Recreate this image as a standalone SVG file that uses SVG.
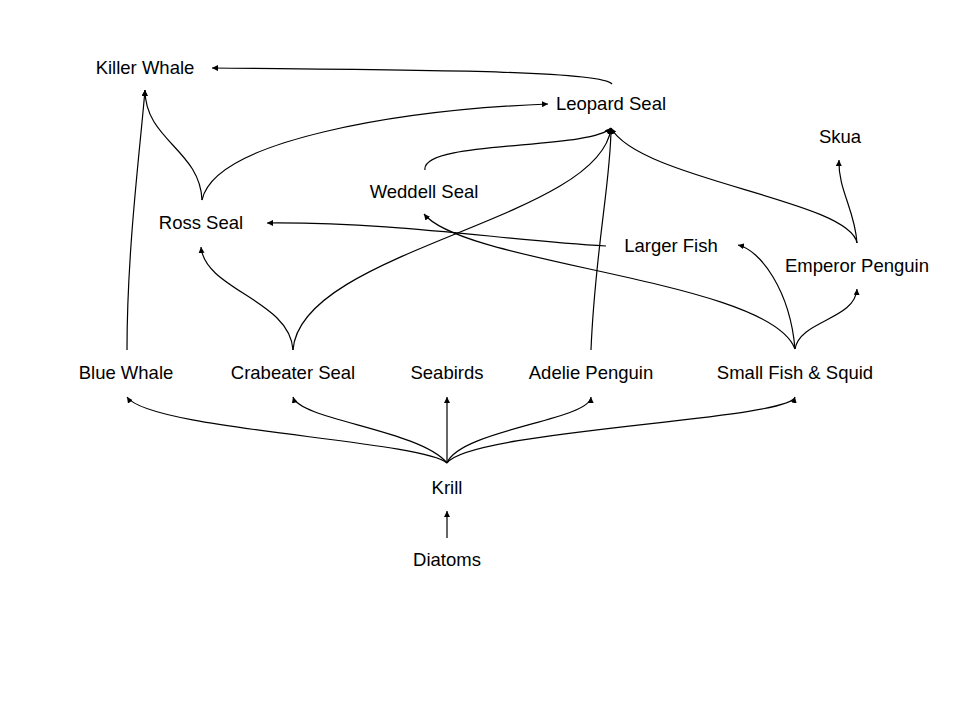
<svg xmlns="http://www.w3.org/2000/svg" width="960" height="720" viewBox="0 0 960 720">
<style>
text{font-family:"Liberation Sans",Arial,sans-serif;font-size:18.5px;fill:#000;text-anchor:middle}
.c path{fill:none;stroke:#000;stroke-width:1.2;marker-end:url(#ah)}
</style>
<defs>
<marker id="ah" markerUnits="userSpaceOnUse" markerWidth="7" markerHeight="6" refX="6" refY="3" orient="auto"><path d="M0,0 L6,3 L0,6 z" fill="#000"/></marker>
</defs>
<rect width="960" height="720" fill="#fff"/>
<g class="c" id="connectors">
<path d="M612,84 C600,70 400,70 212,68"/>
<path d="M202,200 C200,150 145,140 145,90"/>
<path d="M202,200 C215,140 400,110 548,104"/>
<path d="M127,350 C127,250 140,150 145,90"/>
<path d="M293,350 C290,300 205,290 201,247"/>
<path d="M293,350 C300,250 600,220 611,128"/>
<path d="M425,170 C420,140 590,150 611,128"/>
<path d="M591,350 C595,250 611,180 611,128"/>
<path d="M857,243 C850,200 640,180 611,128"/>
<path d="M857,243 C855,210 838,190 839,160"/>
<path d="M795,349 C790,290 760,250 738,245"/>
<path d="M795,349 C800,320 855,320 857,289"/>
<path d="M795,349 C770,280 465,265 424,214"/>
<path d="M606,246 C500,240 400,222 267,223"/>
<path d="M447,463 C420,440 150,430 127,397"/>
<path d="M447,463 C420,430 300,420 293,397"/>
<path d="M447,463 L447,397"/>
<path d="M447,463 C460,430 590,420 591,397"/>
<path d="M447,463 C470,430 790,420 795,397"/>
<path d="M447,538 L447,511"/>
</g>
<g id="killer-whale"><text x="145" y="74">Killer Whale</text></g>
<g id="leopard-seal"><text x="611" y="110">Leopard Seal</text></g>
<g id="skua"><text x="840" y="143">Skua</text></g>
<g id="weddell-seal"><text x="424" y="198">Weddell Seal</text></g>
<g id="ross-seal"><text x="201" y="229">Ross Seal</text></g>
<g id="larger-fish"><text x="671" y="252">Larger Fish</text></g>
<g id="emperor-penguin"><text x="857" y="272">Emperor Penguin</text></g>
<g id="blue-whale"><text x="126" y="379">Blue Whale</text></g>
<g id="crabeater-seal"><text x="293" y="379">Crabeater Seal</text></g>
<g id="seabirds"><text x="447" y="379">Seabirds</text></g>
<g id="adelie-penguin"><text x="591" y="379">Adelie Penguin</text></g>
<g id="small-fish-squid"><text x="795" y="379">Small Fish &amp; Squid</text></g>
<g id="krill"><text x="447" y="494">Krill</text></g>
<g id="diatoms"><text x="447" y="566">Diatoms</text></g>
</svg>
